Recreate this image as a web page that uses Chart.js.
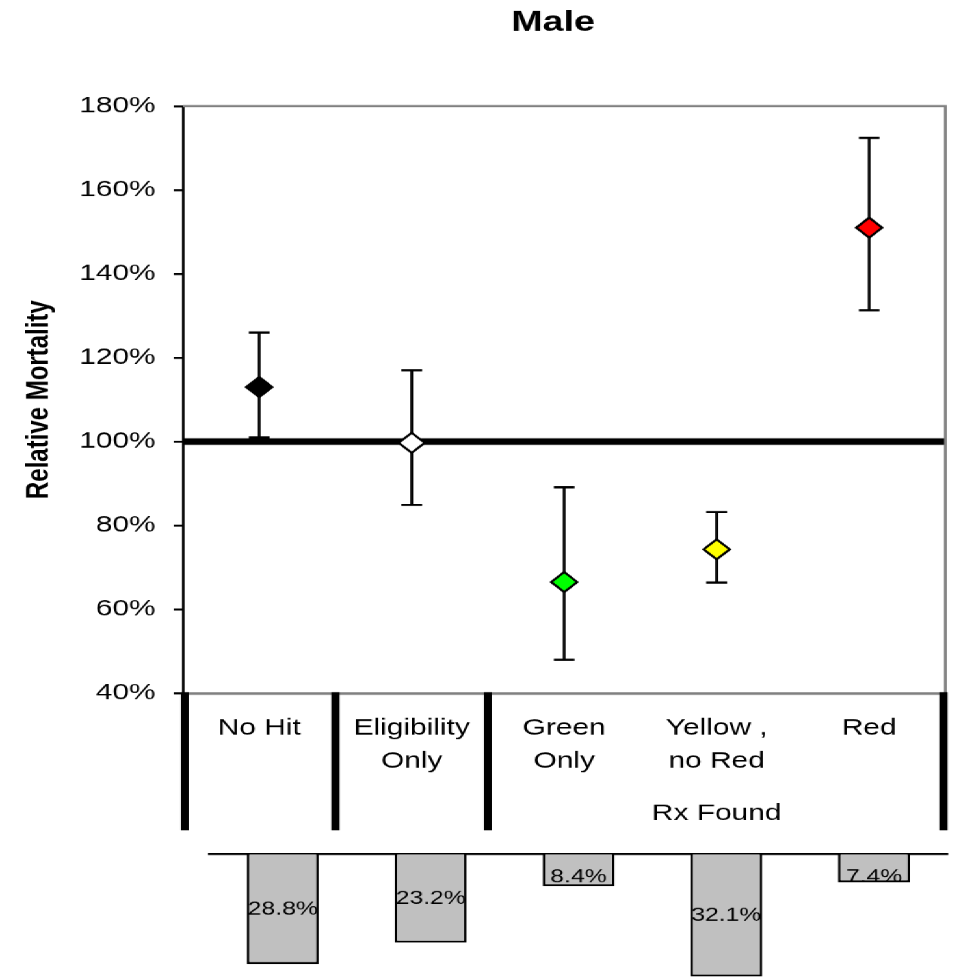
<!DOCTYPE html>
<html>
<head>
<meta charset="utf-8">
<script src="https://cdn.jsdelivr.net/npm/chart.js@4"></script>
<style>
  html, body { margin: 0; padding: 0; background: #ffffff; overflow: hidden; }
  #stretch { width: 739px; transform-origin: 0 0; transform: scaleX(1.30041); }
  canvas { display: block; }
</style>
</head>
<body>
<div id="stretch">
  <canvas id="main" width="739" height="840"></canvas>
  <canvas id="share" width="739" height="140"></canvas>
</div>
<script>
// ---------- data ----------
const categories = [['No Hit'], ['Eligibility', 'Only'], ['Green', 'Only'], ['Yellow ,', 'no Red'], ['Red']];
const relativeMortality = [113.0, 99.7, 66.5, 74.3, 151.0];
const upperBound = [126.0, 117.0, 89.1, 83.2, 172.4];
const lowerBound = [101.0, 84.9, 48.0, 66.4, 131.3];
const markerColors = ['#000000', '#ffffff', '#00ff00', '#ffff00', '#ff0000'];
const shareOfCases = [28.8, 23.2, 8.4, 32.1, 7.4];
const groupLabels = ['', '', 'Rx Found'];
const groupSpans = [[0, 0], [1, 1], [2, 4]];
const referenceLevel = 100;
const yMin = 40, yMax = 180, yStep = 20;
const chartTitle = 'Male';
const yAxisTitle = 'Relative Mortality';

const FONT = "'Liberation Sans', Arial, Helvetica, sans-serif";
Chart.defaults.font.family = FONT;
Chart.defaults.color = '#000000';

// ---------- plugins ----------
const framePlugin = {
  id: 'frameAndRef',
  beforeDatasetsDraw(chart) {
    const {ctx, chartArea: a, scales: {x, y}} = chart;
    ctx.save();
    // gray frame (top + right)
    ctx.strokeStyle = '#808080';
    ctx.lineWidth = 2.2;
    ctx.beginPath();
    ctx.moveTo(a.left, a.top);
    ctx.lineTo(a.right, a.top);
    ctx.lineTo(a.right, a.bottom);
    ctx.stroke();
    // reference line
    const yr = y.getPixelForValue(referenceLevel);
    ctx.strokeStyle = '#000000';
    ctx.lineWidth = 6.5;
    ctx.beginPath();
    ctx.moveTo(a.left, yr);
    ctx.lineTo(a.right - 1, yr);
    ctx.stroke();
    // error bars
    ctx.lineWidth = 2.2;
    for (let i = 0; i < relativeMortality.length; i++) {
      const px = x.getPixelForValue(i);
      const yu = y.getPixelForValue(upperBound[i]);
      const yl = y.getPixelForValue(lowerBound[i]);
      ctx.beginPath();
      ctx.moveTo(px, yu); ctx.lineTo(px, yl);
      ctx.moveTo(px - 8, yu); ctx.lineTo(px + 8, yu);
      ctx.moveTo(px - 8, yl); ctx.lineTo(px + 8, yl);
      ctx.stroke();
    }
    ctx.restore();
  },
  afterDraw(chart) {
    const {ctx, chartArea: a, scales: {x}} = chart;
    const half = (x.getPixelForValue(1) - x.getPixelForValue(0)) / 2;
    ctx.save();
    // chart title
    ctx.fillStyle = '#000000';
    ctx.font = 'bold 29px ' + FONT;
    ctx.textAlign = 'center';
    ctx.textBaseline = 'middle';
    ctx.fillText(chartTitle, (a.left + a.right) / 2 - 8.5, 23);
    // group separators
    const yTop = a.bottom - 1, yBot = 830;
    const bounds = new Set();
    groupSpans.forEach(([s, e]) => {
      bounds.add(x.getPixelForValue(s) - half);
      bounds.add(x.getPixelForValue(e) + half);
    });
    bounds.forEach(bx => {
      const cx = Math.min(Math.max(bx, a.left + 1.5), a.right - 1.5);
      ctx.fillRect(cx - 3.1, yTop, 6.2, yBot - yTop);
    });
    // group labels
    ctx.font = '23px ' + FONT;
    groupSpans.forEach(([s, e], gi) => {
      if (!groupLabels[gi]) return;
      const cx = (x.getPixelForValue(s) + x.getPixelForValue(e)) / 2;
      ctx.fillText(groupLabels[gi], cx, 813.5);
    });
    ctx.restore();
  }
};

const barLabelPlugin = {
  id: 'barLabels',
  afterDatasetsDraw(chart) {
    const {ctx} = chart;
    const meta = chart.getDatasetMeta(0);
    ctx.save();
    ctx.font = '19px ' + FONT;
    ctx.fillStyle = '#000000';
    ctx.textAlign = 'center';
    ctx.textBaseline = 'middle';
    meta.data.forEach((el, i) => {
      const mid = (el.base + el.y) / 2;
      const ty = Math.max(mid, el.base + 22.7);
      ctx.fillText(shareOfCases[i].toFixed(1) + '%', el.x, ty);
    });
    ctx.restore();
  }
};

// ---------- main chart ----------
new Chart(document.getElementById('main'), {
  type: 'line',
  data: {
    labels: categories,
    datasets: [{
      data: relativeMortality,
      showLine: false,
      pointStyle: 'rectRot',
      pointRadius: 10,
      pointHoverRadius: 10,
      pointBackgroundColor: markerColors,
      pointBorderColor: '#000000',
      pointBorderWidth: 2
    }]
  },
  options: {
    responsive: false,
    animation: false,
    devicePixelRatio: 1.30041,
    events: [],
    layout: { padding: { left: 0, right: 10.8, top: 106, bottom: 7 } },
    plugins: {
      legend: { display: false },
      tooltip: { enabled: false },
      title: { display: false }
    },
    scales: {
      x: {
        type: 'category',
        offset: true,
        grid: { display: false, drawTicks: false },
        border: { display: true, color: '#808080', width: 2.5 },
        ticks: {
          color: '#000000',
          font: { size: 23, lineHeight: 1.457 },
          padding: 18,
          maxRotation: 0,
          autoSkip: false
        },
        afterFit(scale) { scale.height = 140; }
      },
      y: {
        min: yMin,
        max: yMax,
        grid: { drawOnChartArea: false, drawTicks: true, tickLength: 7, color: '#000000', lineWidth: 2 },
        border: { display: true, color: '#000000', width: 2 },
        ticks: {
          stepSize: yStep,
          color: '#000000',
          font: { size: 23 },
          padding: 14,
          callback: v => v + '%'
        },
        title: {
          display: true,
          text: yAxisTitle,
          color: '#000000',
          font: { size: 24, weight: 'bold', family: FONT },
          padding: { top: 15.6, bottom: 0 }
        },
        afterFit(scale) { scale.width = 140.7; }
      }
    }
  },
  plugins: [framePlugin]
});

// ---------- share-of-cases bars ----------
new Chart(document.getElementById('share'), {
  type: 'bar',
  data: {
    labels: categories,
    datasets: [{
      data: shareOfCases,
      backgroundColor: '#c0c0c0',
      borderColor: '#000000',
      borderWidth: 2,
      barPercentage: 1,
      categoryPercentage: 0.487
    }]
  },
  options: {
    responsive: false,
    animation: false,
    devicePixelRatio: 1.30041,
    events: [],
    layout: { padding: { left: 160.7, right: 10, top: 14, bottom: 0 } },
    plugins: { legend: { display: false }, tooltip: { enabled: false }, title: { display: false } },
    scales: {
      x: {
        type: 'category',
        position: 'top',
        offset: true,
        grid: { display: false, drawTicks: false },
        border: { display: true, color: '#000000', width: 2 },
        ticks: { display: false },
        afterFit(scale) { scale.height = 0; }
      },
      y: {
        display: false,
        reverse: true,
        min: 0,
        max: 33
      }
    }
  },
  plugins: [barLabelPlugin]
});
</script>
</body>
</html>
